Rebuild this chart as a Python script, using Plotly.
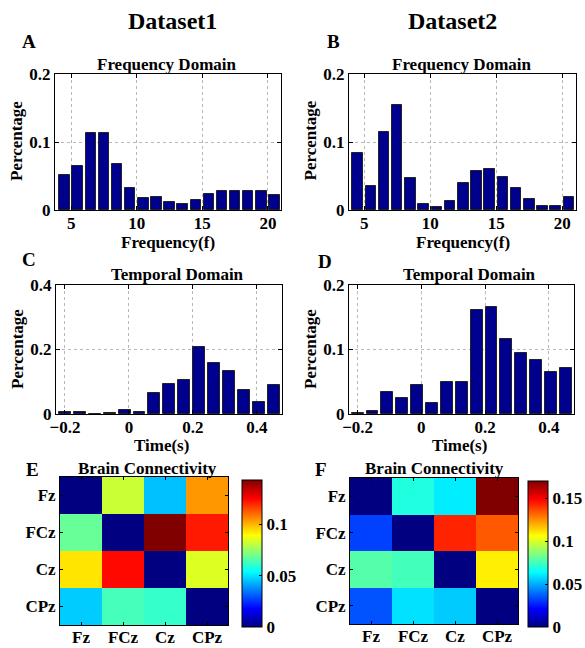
import plotly.graph_objects as go

# ---------------- data ----------------
freq_centers = [4.5, 5.5, 6.5, 7.5, 8.5, 9.5, 10.5, 11.5, 12.5, 13.5, 14.5, 15.5, 16.5, 17.5, 18.5, 19.5, 20.5]
freq_ds1 = [0.0512, 0.0649, 0.1127, 0.1127, 0.0673, 0.0317, 0.0176, 0.0190, 0.0122, 0.0088,
            0.0146, 0.0229, 0.0278, 0.0278, 0.0278, 0.0278, 0.0220]
freq_ds2 = [0.0839, 0.0351, 0.1146, 0.1540, 0.0473, 0.0093, 0.0044, 0.0127, 0.0390, 0.0570,
            0.0610, 0.0490, 0.0320, 0.0166, 0.0059, 0.0059, 0.0195]

time_centers = [-0.2, -0.1533, -0.1067, -0.06, -0.0133, 0.0333, 0.08, 0.1267, 0.1733, 0.22,
                0.2667, 0.3133, 0.36, 0.4067, 0.4533]
time_ds1 = [0.0073, 0.0052, 0.0010, 0.0020, 0.0114, 0.0052, 0.0640, 0.0940, 0.1060, 0.2070,
            0.1580, 0.1330, 0.0750, 0.0370, 0.0890]
time_ds2 = [0.0010, 0.0047, 0.0340, 0.0254, 0.0446, 0.0176, 0.0492, 0.0503, 0.1610, 0.1660,
            0.1160, 0.0950, 0.0830, 0.0650, 0.0715]

channels = ["Fz", "FCz", "Cz", "CPz"]
conn_ds1 = [[0.0, 0.082, 0.045, 0.104],
            [0.068, 0.0, 0.143, 0.1216],
            [0.093, 0.124, 0.0, 0.0846],
            [0.0465, 0.0633, 0.061, 0.0]]
conn_ds2 = [[0.0, 0.069, 0.061, 0.170],
            [0.032, 0.0, 0.143, 0.134],
            [0.078, 0.075, 0.0, 0.109],
            [0.035, 0.059, 0.055, 0.0]]

freq_ticks = [5, 10, 15, 20]
time_ticks = [-0.2, 0, 0.2, 0.4]
time_ticktext = ["\u22120.2", "0", "0.2", "0.4"]

# ---------------- styling ----------------
W, H = 585, 648
FONT = "Liberation Serif"
BAR_COLOR = "#00008F"
jet = [[0.0, "#000080"], [0.125, "#0000ff"], [0.375, "#00ffff"],
       [0.625, "#ffff00"], [0.875, "#ff0000"], [1.0, "#800000"]]


def fx(px):
    return px / W


def fy(py):
    return 1 - py / H


def tfont(size=17):
    return dict(family=FONT, size=size, color="black", weight="bold")


fig = go.Figure()

bar_panels = [
    (1, (55, 281), (74, 210), freq_centers, freq_ds1, 0.8, [3.77, 21.0], [0, 0.2],
     freq_ticks, [str(v) for v in freq_ticks], [0, 0.1, 0.2], ["0", "0.1", "0.2"]),
    (2, (349, 575.5), (74, 210), freq_centers, freq_ds2, 0.8, [3.85, 21.0], [0, 0.2],
     freq_ticks, [str(v) for v in freq_ticks], [0, 0.1, 0.2], ["0", "0.1", "0.2"]),
    (3, (56, 282), (285, 414), time_centers, time_ds1, 0.0373, [-0.228, 0.479], [0, 0.4],
     time_ticks, time_ticktext, [0, 0.2, 0.4], ["0", "0.2", "0.4"]),
    (4, (349, 574), (285, 414), time_centers, time_ds2, 0.0373, [-0.227, 0.479], [0, 0.2],
     time_ticks, time_ticktext, [0, 0.1, 0.2], ["0", "0.1", "0.2"]),
]

layout_axes = {}
for (i, xp, yp, xc, vals, bw, xr, yr, xt, xtt, yt, ytt) in bar_panels:
    sfx = "" if i == 1 else str(i)
    fig.add_trace(go.Bar(x=xc, y=vals, width=bw, xaxis="x" + sfx, yaxis="y" + sfx,
                         marker=dict(color=BAR_COLOR, line=dict(color="#222222", width=1)),
                         showlegend=False, hoverinfo="x+y"))
    layout_axes["xaxis" + sfx] = dict(
        domain=[fx(xp[0]), fx(xp[1])], anchor="y" + sfx, range=xr, automargin=False,
        tickvals=xt, ticktext=xtt, ticks="inside", ticklen=4, tickcolor="black",
        ticklabelstandoff=-2,
        showline=True, linecolor="black", linewidth=1, mirror="ticks",
        showgrid=True, gridcolor="#b8b8b8", griddash="dot", gridwidth=1,
        zeroline=False, tickfont=tfont(17), fixedrange=True)
    layout_axes["yaxis" + sfx] = dict(
        domain=[fy(yp[1]), fy(yp[0])], anchor="x" + sfx, range=yr, automargin=False,
        tickvals=yt, ticktext=ytt, ticks="inside", ticklen=4, tickcolor="black",
        showline=True, linecolor="black", linewidth=1, mirror="ticks",
        showgrid=True, gridcolor="#b8b8b8", griddash="dot", gridwidth=1,
        zeroline=False, tickfont=tfont(17), fixedrange=True)

heat_panels = [
    (5, (60, 228), (477, 625), conn_ds1, 0.143, (242, 480, 627),
     [0, 0.05, 0.1], ["0", "0.05", "0.1"]),
    (6, (350, 518), (478, 624), conn_ds2, 0.170, (528, 481, 627),
     [0, 0.05, 0.1, 0.15], ["0", "0.05", "0.1", "0.15"]),
]
for (i, xp, yp, z, zmax, cb, cbt, cbtt) in heat_panels:
    sfx = str(i)
    fig.add_trace(go.Heatmap(
        z=z, x=channels, y=channels, xaxis="x" + sfx, yaxis="y" + sfx,
        colorscale=jet, zmin=0, zmax=zmax, showscale=True,
        colorbar=dict(x=fx(cb[0]), xanchor="left", xref="paper", xpad=0,
                      y=fy(cb[2]), yanchor="bottom", yref="paper", ypad=0,
                      len=cb[2] - cb[1], lenmode="pixels",
                      thickness=20, thicknessmode="pixels",
                      outlinecolor="black", outlinewidth=1,
                      tickvals=cbt, ticktext=cbtt, ticks="inside", ticklen=3,
                      tickcolor="black", tickfont=tfont(17))))
    layout_axes["xaxis" + sfx] = dict(
        domain=[fx(xp[0]), fx(xp[1])], anchor="y" + sfx, type="category", automargin=False,
        ticks="inside", ticklen=3, tickcolor="black", ticklabelstandoff=-3,
        showline=True, linecolor="black", linewidth=1, mirror="ticks",
        showgrid=False, zeroline=False, tickfont=tfont(17), fixedrange=True)
    layout_axes["yaxis" + sfx] = dict(
        domain=[fy(yp[1]), fy(yp[0])], anchor="x" + sfx, type="category", automargin=False,
        autorange="reversed",
        ticks="inside", ticklen=3, tickcolor="black",
        showline=True, linecolor="black", linewidth=1, mirror="ticks",
        showgrid=False, zeroline=False, tickfont=tfont(17), fixedrange=True)

texts = [
    ("Dataset1", 172, 21, 24, 0), ("Dataset2", 452, 21, 24, 0),
    ("A", 28.5, 41.5, 19, 0), ("B", 333, 41.5, 19, 0),
    ("C", 29, 259.5, 19, 0), ("D", 324.5, 261, 19, 0),
    ("E", 32, 469, 19, 0), ("F", 321, 469, 19, 0),
    ("Frequency Domain", 167, 64, 17, 0), ("Frequency Domain", 462, 64, 17, 0),
    ("Temporal Domain", 177, 274, 17, 0), ("Temporal Domain", 469, 274, 17, 0),
    ("Brain Connectivity", 147.5, 468, 17, 0), ("Brain Connectivity", 434.5, 468, 17, 0),
    ("Frequency(f)", 168, 242.5, 17, 0), ("Frequency(f)", 463, 242.5, 17, 0),
    ("Time(s)", 161, 445, 17, 0), ("Time(s)", 459.5, 446, 17, 0),
    ("Percentage", 17, 141, 17, -90), ("Percentage", 310.5, 141, 17, -90),
    ("Percentage", 17.5, 349.5, 17, -90), ("Percentage", 310.5, 349.5, 17, -90),
]
annotations = []
for (t, x, y, s, ang) in texts:
    annotations.append(dict(text=t, x=fx(x), y=fy(y), xref="paper", yref="paper",
                            xanchor="center", yanchor="middle", showarrow=False,
                            textangle=ang, font=tfont(s)))

fig.update_layout(
    width=W, height=H, margin=dict(l=0, r=0, t=0, b=0, pad=0, autoexpand=False),
    paper_bgcolor="white", plot_bgcolor="white",
    font=dict(family=FONT, size=17, color="black", weight="bold"),
    bargap=0, showlegend=False, annotations=annotations, **layout_axes)

fig.write_html("out.html", config={"displayModeBar": False},
               post_script="document.body.style.margin='0';document.body.style.overflow='hidden';")
